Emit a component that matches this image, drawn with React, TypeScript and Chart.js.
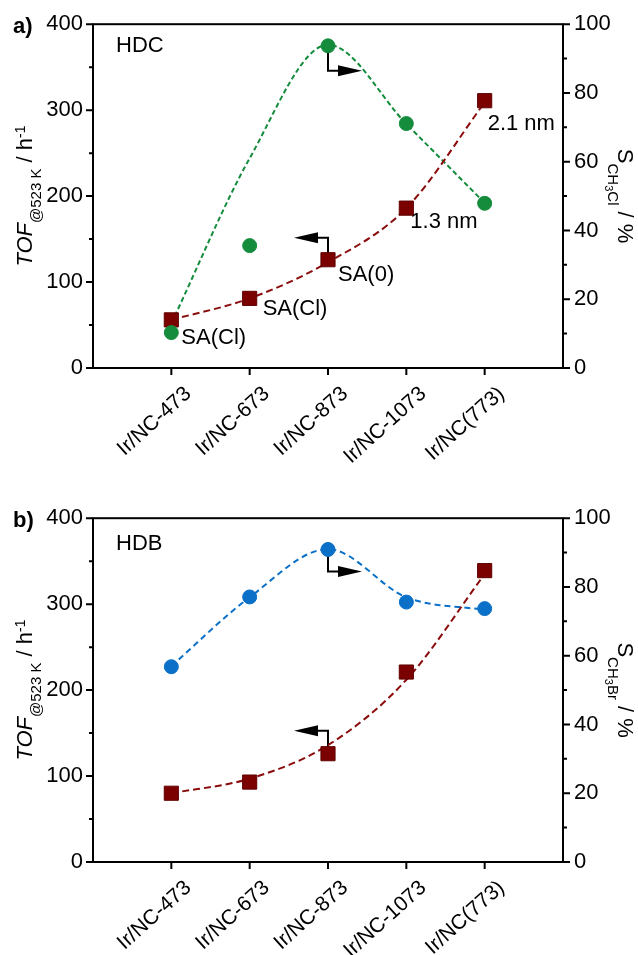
import { useEffect, useRef } from 'react';
import { Chart, registerables } from 'chart.js';

Chart.register(...registerables);

// Catalysts on the shared x axis
const categories = ['Ir/NC-473', 'Ir/NC-673', 'Ir/NC-873', 'Ir/NC-1073', 'Ir/NC(773)'];

// a) HDC: turnover frequency (left axis) and CH3Cl selectivity (right axis)
const tofHDC = [56, 81, 126, 186, 311];
const selHDC = [10.3, 35.6, 93.7, 71.1, 47.9];
// guide-to-the-eye curves for panel a
const tofGuideHDC = [56, 81, 123, 186, 309];
const selGuideHDC = [13, 61, 94, 71, 48];

// b) HDB: turnover frequency and CH3Br selectivity
const tofHDB = [80, 93, 126, 221, 339];
const selHDB = [56.8, 77.1, 90.9, 75.6, 73.7];
// guide-to-the-eye curves for panel b
const tofGuideHDB = [80, 97, 136, 212, 335];
const selGuideHDB = [57, 77, 91, 77, 73.3];

// axis ranges and tick steps
const tofRange = [0, 400];
const tofMajor = 100;
const tofMinor = 50;
const selRange = [0, 100];
const selMajor = 20;
const selMinor = 10;

const FONT = '"Liberation Sans", Arial, Helvetica, sans-serif';
const RED = '#7b0000';
const RED_LINE = '#8a0c0c';
const GREEN = '#148c3c';
const BLUE = '#0a70c8';

type Note = { text: string; series: 'tof' | 'sel'; index: number; dx: number; dy: number };
type Run = { t: string; size: number; dy: number; style?: string };

type PanelProps = {
  top: number;
  height: number;
  letter: string;
  name: string;
  nameBaseline: number;
  tof: number[];
  sel: number[];
  tofGuide: number[];
  selGuide: number[];
  selColor: string;
  selSub: string;
  notes: Note[];
  rightArrowDrop: number;
  leftArrowRise: number;
};

function drawRuns(ctx: CanvasRenderingContext2D, runs: Run[]) {
  let total = 0;
  for (const r of runs) {
    ctx.font = `${r.style ?? ''} ${r.size}px ${FONT}`;
    total += ctx.measureText(r.t).width;
  }
  let x = -total / 2;
  for (const r of runs) {
    ctx.font = `${r.style ?? ''} ${r.size}px ${FONT}`;
    ctx.fillText(r.t, x, r.dy);
    x += ctx.measureText(r.t).width;
  }
}

function Panel(p: PanelProps) {
  const ref = useRef<HTMLCanvasElement | null>(null);

  useEffect(() => {
    const canvas = ref.current;
    if (!canvas) return;
    const plotTop = 23;
    const plotHeight = 345;

    const toXY = (arr: number[]) => arr.map((v, i) => ({ x: i + 1, y: v }));

    const decorations = {
      id: 'decorations',
      beforeDatasetsDraw(chart: any) {
        const ctx: CanvasRenderingContext2D = chart.ctx;
        const xs = chart.scales.x;
        const yL = chart.scales.yL;
        const yR = chart.scales.yR;
        const px = xs.getPixelForValue(3);
        ctx.save();
        ctx.strokeStyle = '#000';
        ctx.fillStyle = '#000';
        ctx.lineWidth = 2;
        // arrow pointing to the selectivity axis
        const sy = yR.getPixelForValue(p.sel[2]);
        const hy = sy + p.rightArrowDrop;
        ctx.beginPath();
        ctx.moveTo(px, sy);
        ctx.lineTo(px, hy);
        ctx.lineTo(px + 12, hy);
        ctx.stroke();
        ctx.beginPath();
        ctx.moveTo(px + 10, hy - 5.5);
        ctx.lineTo(px + 34, hy);
        ctx.lineTo(px + 10, hy + 5.5);
        ctx.closePath();
        ctx.fill();
        // arrow pointing to the TOF axis
        const ty = yL.getPixelForValue(p.tof[2]);
        const gy = ty - p.leftArrowRise;
        ctx.beginPath();
        ctx.moveTo(px, ty);
        ctx.lineTo(px, gy);
        ctx.lineTo(px - 12, gy);
        ctx.stroke();
        ctx.beginPath();
        ctx.moveTo(px - 10, gy - 5.5);
        ctx.lineTo(px - 34, gy);
        ctx.lineTo(px - 10, gy + 5.5);
        ctx.closePath();
        ctx.fill();
        ctx.restore();
      },
      afterDraw(chart: any) {
        const ctx: CanvasRenderingContext2D = chart.ctx;
        const { left, right, top, bottom } = chart.chartArea;
        const xs = chart.scales.x;
        const yL = chart.scales.yL;
        const yR = chart.scales.yR;
        ctx.save();
        ctx.strokeStyle = '#000';
        ctx.fillStyle = '#000';
        ctx.lineWidth = 2;
        ctx.strokeRect(left, top, right - left, bottom - top);

        // tick marks, major and minor
        ctx.beginPath();
        for (let v = tofRange[0]; v <= tofRange[1]; v += tofMinor) {
          const y = yL.getPixelForValue(v);
          const len = v % tofMajor === 0 ? 7 : 4;
          ctx.moveTo(left, y);
          ctx.lineTo(left - len, y);
        }
        for (let v = selRange[0]; v <= selRange[1]; v += selMinor) {
          const y = yR.getPixelForValue(v);
          const len = v % selMajor === 0 ? 7 : 4;
          ctx.moveTo(right, y);
          ctx.lineTo(right + len, y);
        }
        categories.forEach((_, i) => {
          const x = xs.getPixelForValue(i + 1);
          ctx.moveTo(x, bottom);
          ctx.lineTo(x, bottom + 7);
        });
        ctx.stroke();

        // rotated category labels
        ctx.font = `21px ${FONT}`;
        ctx.textAlign = 'right';
        ctx.textBaseline = 'middle';
        categories.forEach((c, i) => {
          const x = xs.getPixelForValue(i + 1);
          ctx.save();
          ctx.translate(x + 17, bottom + 23);
          ctx.rotate((-42 * Math.PI) / 180);
          ctx.fillText(c, 0, 0);
          ctx.restore();
        });

        ctx.textAlign = 'left';
        ctx.textBaseline = 'alphabetic';
        // left axis title
        ctx.save();
        ctx.translate(32, (top + bottom) / 2);
        ctx.rotate(-Math.PI / 2);
        drawRuns(ctx, [
          { t: 'TOF', size: 22, dy: 0, style: 'italic' },
          { t: '@523 K', size: 15, dy: 9 },
          { t: ' / h', size: 22, dy: 0 },
          { t: '-1', size: 14, dy: -7 },
        ]);
        ctx.restore();

        // right axis title
        ctx.save();
        ctx.translate(618, (top + bottom) / 2);
        ctx.rotate(Math.PI / 2);
        drawRuns(ctx, [
          { t: 'S', size: 22, dy: 0 },
          { t: 'CH', size: 15, dy: 10 },
          { t: '3', size: 11, dy: 13 },
          { t: p.selSub, size: 15, dy: 10 },
          { t: ' / %', size: 22, dy: 0 },
        ]);
        ctx.restore();

        // panel letter and reaction name
        ctx.font = `bold 22px ${FONT}`;
        ctx.fillText(p.letter, 13, 33);
        ctx.font = `22px ${FONT}`;
        ctx.fillText(p.name, 116, p.nameBaseline);

        // point annotations
        for (const n of p.notes) {
          const x = xs.getPixelForValue(n.index + 1);
          const y = n.series === 'tof' ? yL.getPixelForValue(p.tof[n.index]) : yR.getPixelForValue(p.sel[n.index]);
          ctx.fillText(n.text, x + n.dx, y + n.dy);
        }
        ctx.restore();
      },
    };

    const chart = new Chart(canvas, {
      type: 'line',
      data: {
        datasets: [
          {
            data: toXY(p.sel),
            yAxisID: 'yR',
            showLine: false,
            pointStyle: 'circle',
            pointRadius: 7,
            pointBorderWidth: 1,
            pointBackgroundColor: p.selColor,
            pointBorderColor: p.selColor,
            order: 0,
          },
          {
            data: toXY(p.tof),
            yAxisID: 'yL',
            showLine: false,
            pointStyle: 'rect',
            pointRadius: 10,
            pointBorderWidth: 1,
            pointBackgroundColor: RED,
            pointBorderColor: '#600000',
            order: 0,
          },
          {
            data: toXY(p.tofGuide),
            yAxisID: 'yL',
            borderColor: RED_LINE,
            borderWidth: 2,
            borderDash: [7, 4],
            pointRadius: 0,
            cubicInterpolationMode: 'monotone',
            fill: false,
            order: 1,
          },
          {
            data: toXY(p.selGuide),
            yAxisID: 'yR',
            borderColor: p.selColor,
            borderWidth: 2,
            borderDash: p.selColor === GREEN ? [5, 3] : [6, 4],
            pointRadius: 0,
            cubicInterpolationMode: 'monotone',
            fill: false,
            order: 1,
          },
        ],
      },
      options: {
        animation: false,
        responsive: false,
        devicePixelRatio: 1,
        layout: { padding: { top: plotTop, left: 0, right: 0, bottom: 0 } },
        plugins: { legend: { display: false }, tooltip: { enabled: false } },
        scales: {
          x: {
            type: 'linear',
            min: 0,
            max: 6,
            grid: { display: false, drawTicks: false },
            border: { display: false },
            ticks: { display: false },
            afterFit: (s: any) => {
              s.height = p.height - plotTop - plotHeight;
            },
          },
          yL: {
            type: 'linear',
            position: 'left',
            min: tofRange[0],
            max: tofRange[1],
            grid: { display: false, drawTicks: false },
            border: { display: false },
            ticks: { stepSize: tofMajor, color: '#000', padding: 10, font: { family: FONT, size: 22 } },
            afterFit: (s: any) => {
              s.width = 93;
            },
          },
          yR: {
            type: 'linear',
            position: 'right',
            min: selRange[0],
            max: selRange[1],
            grid: { display: false, drawTicks: false },
            border: { display: false },
            ticks: { stepSize: selMajor, color: '#000', padding: 11, font: { family: FONT, size: 22 } },
            afterFit: (s: any) => {
              s.width = 75;
            },
          },
        },
      },
      plugins: [decorations],
    } as any);

    return () => chart.destroy();
  }, []);

  return (
    <canvas
      ref={ref}
      width={638}
      height={p.height}
      style={{ position: 'absolute', left: 0, top: p.top, width: 638, height: p.height }}
    />
  );
}

export default function App() {
  return (
    <div style={{ position: 'absolute', left: 0, top: 0, width: 638, height: 955, background: '#fff' }}>
      <Panel
        top={0}
        height={494}
        letter="a)"
        name="HDC"
        nameBaseline={52}
        tof={tofHDC}
        sel={selHDC}
        tofGuide={tofGuideHDC}
        selGuide={selGuideHDC}
        selColor={GREEN}
        selSub="Cl"
        notes={[
          { text: 'SA(Cl)', series: 'sel', index: 0, dx: 10, dy: 11 },
          { text: 'SA(Cl)', series: 'tof', index: 1, dx: 13, dy: 17 },
          { text: 'SA(0)', series: 'tof', index: 2, dx: 10, dy: 21 },
          { text: '1.3 nm', series: 'tof', index: 3, dx: 4, dy: 20 },
          { text: '2.1 nm', series: 'tof', index: 4, dx: 3, dy: 29 },
        ]}
        rightArrowDrop={25}
        leftArrowRise={22}
      />
      <Panel
        top={494}
        height={461}
        letter="b)"
        name="HDB"
        nameBaseline={56}
        tof={tofHDB}
        sel={selHDB}
        tofGuide={tofGuideHDB}
        selGuide={selGuideHDB}
        selColor={BLUE}
        selSub="Br"
        notes={[]}
        rightArrowDrop={22}
        leftArrowRise={23}
      />
    </div>
  );
}
